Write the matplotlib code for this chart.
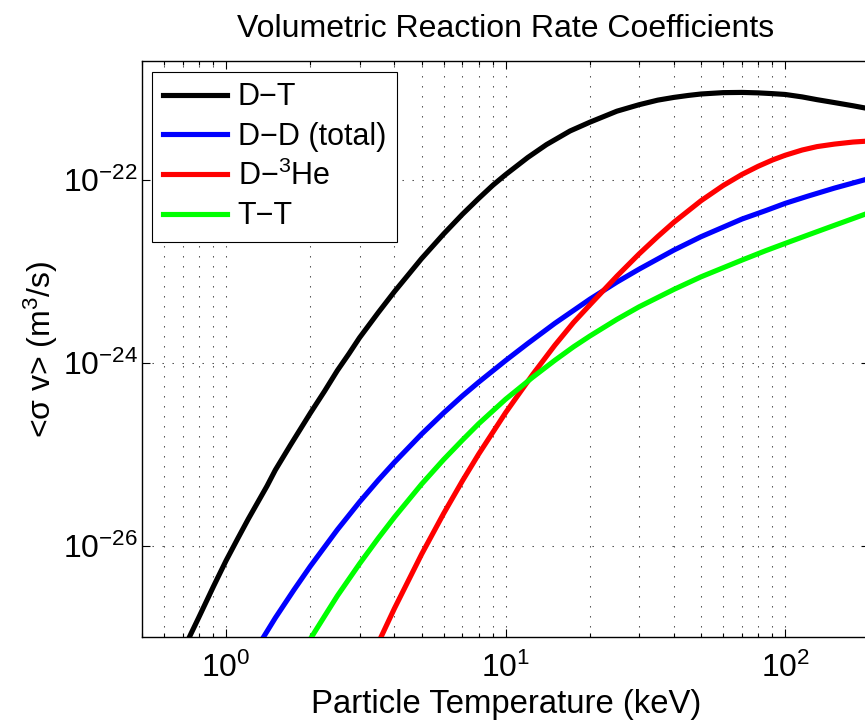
import numpy as np
import matplotlib
matplotlib.use("Agg")
import matplotlib.pyplot as plt
from matplotlib.ticker import FixedLocator, LogLocator, NullLocator, NullFormatter

plt.rcParams["font.family"] = ["Liberation Sans", "DejaVu Sans"]
plt.rcParams["mathtext.fontset"] = "custom"
plt.rcParams["mathtext.rm"] = "Liberation Sans"
plt.rcParams["mathtext.it"] = "Liberation Sans:italic"
plt.rcParams["mathtext.bf"] = "Liberation Sans:bold"

# reactivities <sigma v> in m^3/s, temperature in keV
t_dt = [0.7, 0.75, 0.8, 0.9, 1.0, 1.1, 1.2, 1.3, 1.4, 1.5, 1.7, 2.0, 2.25, 2.5, 2.75,
        3.0, 3.5, 4.0, 4.5, 5.0, 6.0, 7.0, 8.0, 9.0, 10, 12, 14, 17, 20, 25, 30, 35,
        40, 45, 50, 60, 70, 80, 90, 100, 115, 130, 150, 175, 200]
sv_dt = [7.0e-28, 1.10e-27, 1.66e-27, 3.55e-27, 6.86e-27, 1.19e-26, 1.95e-26, 3.0e-26,
         4.47e-26, 6.7e-26, 1.26e-25, 2.8e-25, 4.88e-25, 8.2e-25, 1.25e-24,
         1.87e-24, 3.52e-24, 5.97e-24, 9.25e-24, 1.37e-23, 2.55e-23, 4.18e-23, 6.22e-23,
         8.7e-23, 1.137e-22, 1.75e-22, 2.42e-22, 3.41e-22, 4.25e-22, 5.61e-22, 6.6e-22,
         7.41e-22, 7.94e-22, 8.34e-22, 8.65e-22, 8.95e-22, 9.0e-22, 8.9e-22, 8.73e-22,
         8.55e-22, 8.04e-22, 7.5e-22, 6.97e-22, 6.43e-22, 5.96e-22]

t_dd = [1.3, 1.5, 1.75, 2.0, 2.5, 3.0, 3.5, 4.0, 5.0, 6.0, 7.0, 8.0, 10, 12, 15, 20,
        25, 30, 40, 50, 70, 85, 100, 120, 150, 200]
sv_dd = [7.96e-28, 1.62e-27, 3.29e-27, 5.93e-27, 1.49e-26, 2.99e-26, 5.18e-26, 8.13e-26,
         1.65e-25, 2.82e-25, 4.32e-25, 6.1e-25, 1.055e-24, 1.62e-24, 2.69e-24, 4.93e-24,
         7.59e-24, 1.05e-23, 1.7e-23, 2.38e-23, 3.71e-23, 4.58e-23, 5.51e-23, 6.58e-23,
         8.09e-23, 1.03e-22]

t_dhe3 = [3.5, 4.0, 5.0, 6.0, 7.0, 8.0, 10, 12.5, 15, 17.5, 20, 25, 30, 35, 40, 50,
          60, 70, 80, 90, 100, 115, 130, 150, 175, 200]
sv_dhe3 = [8.6e-28, 2.05e-27, 8.0e-27, 2.24e-26, 5.08e-26, 9.95e-26, 2.84e-25, 7.43e-25,
           1.55e-24, 2.75e-24, 4.27e-24, 8.81e-24, 1.54e-23, 2.39e-23, 3.43e-23, 5.89e-23,
           8.63e-23, 1.14e-22, 1.40e-22, 1.64e-22, 1.85e-22, 2.11e-22, 2.30e-22, 2.45e-22,
           2.58e-22, 2.65e-22]

t_tt = [2.0, 2.25, 2.5, 3.0, 3.5, 4.0, 5.0, 6.0, 7.0, 8.0, 10, 12.5, 15, 17.5, 20, 25,
        30, 40, 50, 70, 85, 100, 120, 150, 200]
sv_tt = [9.5e-28, 1.69e-27, 2.82e-27, 6.31e-27, 1.2e-26, 2.04e-26, 4.68e-26, 8.71e-26,
         1.42e-25, 2.14e-25, 3.98e-25, 6.92e-25, 1.06e-24, 1.49e-24, 1.95e-24, 2.97e-24,
         4.07e-24, 6.32e-24, 8.67e-24, 1.32e-23, 1.67e-23, 2.01e-23, 2.47e-23, 3.17e-23,
         4.36e-23]

series = [
    (t_dt, sv_dt, "k", "D\u2212T"),
    (t_dd, sv_dd, "#0000ff", "D\u2212D (total)"),
    (t_dhe3, sv_dhe3, "#ff0000", "D\u2212$^3$He"),
    (t_tt, sv_tt, "#00ff00", "T\u2212T"),
]

fig = plt.figure(figsize=(8.65, 7.23), dpi=100)
# right edge of the axes runs just past the picture, as in the original export
ax = fig.add_axes([142 / 865, 86 / 723, 727.3 / 865, 576.3 / 723])

for t, sv, col, lab in series:
    ax.plot(t, sv, color=col, lw=3.7, label=lab, solid_joinstyle="round", zorder=3)

ax.set_xscale("log")
ax.set_yscale("log")
ax.set_xlim(0.5, 200)
ax.set_ylim(1e-27, 2e-21)

ax.xaxis.set_major_locator(FixedLocator([1, 10, 100]))
ax.xaxis.set_minor_locator(LogLocator(base=10, subs=np.arange(2, 10)))
ax.xaxis.set_minor_formatter(NullFormatter())
ax.yaxis.set_major_locator(FixedLocator([1e-26, 1e-24, 1e-22]))
ax.yaxis.set_minor_locator(NullLocator())

dots = (0, (1.3, 8.3))
ax.grid(True, which="major", axis="both", color="0.25", lw=0.75, linestyle=dots)
ax.grid(True, which="minor", axis="x", color="0.25", lw=0.75, linestyle=dots)

ax.tick_params(which="both", direction="in", top=True, right=True, width=0.8)
ax.tick_params(which="major", length=6, labelsize=23)
ax.tick_params(which="minor", length=3)
ax.tick_params(axis="x", which="major", pad=11)
ax.tick_params(axis="y", which="major", pad=3)
for sp in ax.spines.values():
    sp.set_linewidth(1.0)

ax.set_title("Volumetric Reaction Rate Coefficients", fontsize=23, pad=17)
ax.set_xlabel("Particle Temperature (keV)", fontsize=23.7, labelpad=4)
ax.set_ylabel("<\u03c3 v> (m$^3$/s)", fontsize=23, labelpad=2)

leg = ax.legend(loc="upper left", bbox_to_anchor=(10 / 727.3, 1 - 11 / 576.3),
                borderaxespad=0, fontsize=22, fancybox=False, framealpha=1,
                edgecolor="k", handlelength=2.1, handletextpad=0.35,
                labelspacing=0.3, borderpad=0.35)
leg.get_frame().set_linewidth(0.8)

fig.savefig("out.png", dpi=100)
